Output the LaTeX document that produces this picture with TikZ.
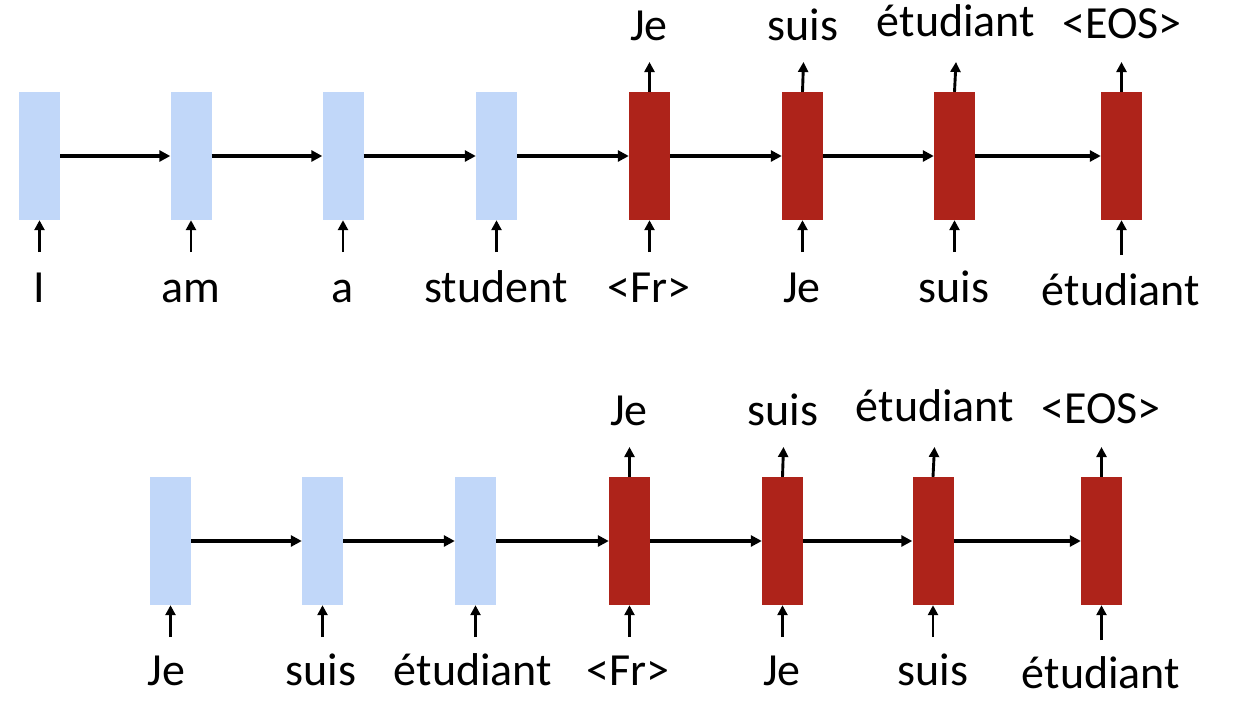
\documentclass[tikz,border=0pt]{standalone}
\usepackage{fontspec}
\setmainfont{Carlito}
\usetikzlibrary{arrows.meta}
\definecolor{encblue}{RGB}{193,215,249}
\definecolor{decred}{RGB}{174,35,26}
\begin{document}
\begin{tikzpicture}[x=1pt,y=-1pt,
 cell/.style={rectangle, minimum width=41pt, minimum height=128pt, inner sep=0pt, draw=none},
 enc/.style={cell, fill=encblue},
 dec/.style={cell, fill=decred},
 word/.style={font=\fontsize{46}{55}\selectfont, anchor=base, inner sep=0pt},
 flow/.style={-{Triangle[length=11pt,width=11pt]}, line width=3.3pt},
 io/.style={-{Triangle[length=10pt,width=10pt]}, line width=2.9pt}]
\useasboundingbox (0,0) rectangle (1234,702);
% ---------- top row ----------
\node[enc] (e1) at (39.5,156) {};
\node[enc] (e2) at (191,156) {};
\node[enc] (e3) at (343,156) {};
\node[enc] (e4) at (496.5,156) {};
\node[dec] (d1) at (649.5,156) {};
\node[dec] (d2) at (802.5,156) {};
\node[dec] (d3) at (954.5,156) {};
\node[dec] (d4) at (1121.5,156) {};
\draw[flow] (e1.east) -- (e2.west);
\draw[flow] (e2.east) -- (e3.west);
\draw[flow] (e3.east) -- (e4.west);
\draw[flow] (e4.east) -- (d1.west);
\draw[flow] (d1.east) -- (d2.west);
\draw[flow] (d2.east) -- (d3.west);
\draw[flow] (d3.east) -- (d4.west);
\foreach \n/\x in {e1/39.5,e2/191,e3/343,e4/496.5,d1/649.5,d2/802.5,d3/954.5}{
  \coordinate (\n in) at (\x,252);
  \draw[io] (\n in) -- (\n.south);
}
\coordinate (d4 in) at (1121.5,255);
\draw[io] (d4 in) -- (d4.south);
\foreach \n/\x in {d1/649.5,d2/803.5,d3/956,d4/1121.5}{
  \coordinate (\n out) at (\x,62);
  \draw[io] (\n.north) -- (\n out);
}
\node[word] (t1) at (39,302) {I};
\node[word] (t2) at (191,302) {am};
\node[word] (t3) at (343,302) {a};
\node[word] (t4) at (496,302) {student};
\node[word] (t5) at (649,302) {<Fr>};
\node[word] (t6) at (802,302) {Je};
\node[word] (t7) at (954,302) {suis};
\node[word] (t8) at (1121,305) {étudiant};
\node[word] (o1) at (649,40) {Je};
\node[word] (o2) at (803,40) {suis};
\node[word] (o3) at (956,36) {étudiant};
\node[word] (o4) at (1122,38) {<EOS>};
% ---------- bottom row ----------
\node[enc] (f1) at (170.5,541) {};
\node[enc] (f2) at (322.5,541) {};
\node[enc] (f3) at (475.5,541) {};
\node[dec] (g1) at (629.5,541) {};
\node[dec] (g2) at (782.5,541) {};
\node[dec] (g3) at (933,541) {};
\node[dec] (g4) at (1101.5,541) {};
\draw[flow] (f1.east) -- (f2.west);
\draw[flow] (f2.east) -- (f3.west);
\draw[flow] (f3.east) -- (g1.west);
\draw[flow] (g1.east) -- (g2.west);
\draw[flow] (g2.east) -- (g3.west);
\draw[flow] (g3.east) -- (g4.west);
\foreach \n/\x in {f1/170.5,f2/322.5,f3/475.5,g1/629.5,g2/782.5,g3/933}{
  \coordinate (\n in) at (\x,637);
  \draw[io] (\n in) -- (\n.south);
}
\coordinate (g4 in) at (1101.5,640);
\draw[io] (g4 in) -- (g4.south);
\foreach \n/\x in {g1/629.5,g2/783.5,g3/934.5,g4/1101.5}{
  \coordinate (\n out) at (\x,447);
  \draw[io] (\n.north) -- (\n out);
}
\node[word] (b1) at (166.5,685) {Je};
\node[word] (b2) at (321,685) {suis};
\node[word] (b3) at (473,685) {étudiant};
\node[word] (b4) at (628,685) {<Fr>};
\node[word] (b5) at (782,685) {Je};
\node[word] (b6) at (933,685) {suis};
\node[word] (b7) at (1101,688) {étudiant};
\node[word] (p1) at (629,425) {Je};
\node[word] (p2) at (783,425) {suis};
\node[word] (p3) at (935,421) {étudiant};
\node[word] (p4) at (1101,423) {<EOS>};
\end{tikzpicture}
\end{document}
